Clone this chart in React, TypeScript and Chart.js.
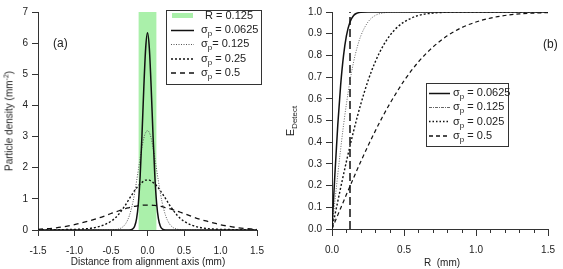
import React, { useEffect, useRef } from "react";
import { Chart, registerables } from "chart.js";

Chart.register(...registerables);

const FONT = "'Liberation Sans', Arial, sans-serif";
const INK = "#222";

// ---------- Panel (a): particle density vs distance ----------
const distX = [
  -1.5, -1.25, -1.0, -0.9, -0.8, -0.7, -0.6, -0.5, -0.45, -0.4, -0.35, -0.3, -0.25, -0.2, -0.175, -0.15, -0.125, -0.1, -0.075, -0.05, -0.025,
  0,
  0.025, 0.05, 0.075, 0.1, 0.125, 0.15, 0.175, 0.2, 0.25, 0.3, 0.35, 0.4, 0.45, 0.5, 0.6, 0.7, 0.8, 0.9, 1.0, 1.25, 1.5,
];
const densSigma00625 = [
  0, 0, 0, 0, 0, 0, 0, 0, 0, 0, 0, 0, 0, 0.04, 0.13, 0.36, 0.86, 1.76, 3.08, 4.6, 5.84,
  6.33,
  5.84, 4.6, 3.08, 1.76, 0.86, 0.36, 0.13, 0.04, 0, 0, 0, 0, 0, 0, 0, 0, 0, 0, 0, 0, 0,
];
const densSigma0125 = [
  0, 0, 0, 0, 0, 0, 0, 0, 0.01, 0.03, 0.08, 0.2, 0.45, 0.89, 1.2, 1.56, 1.94, 2.32, 2.66, 2.95, 3.13,
  3.19,
  3.13, 2.95, 2.66, 2.32, 1.94, 1.56, 1.2, 0.89, 0.45, 0.2, 0.08, 0.03, 0.01, 0, 0, 0, 0, 0, 0, 0, 0,
];
const densSigma025 = [
  0, 0.01, 0.02, 0.03, 0.05, 0.09, 0.16, 0.28, 0.37, 0.49, 0.64, 0.81, 1.0, 1.18, 1.27, 1.35, 1.42, 1.48, 1.53, 1.57, 1.6,
  1.6,
  1.6, 1.57, 1.53, 1.48, 1.42, 1.35, 1.27, 1.18, 1.0, 0.81, 0.64, 0.49, 0.37, 0.28, 0.16, 0.09, 0.05, 0.03, 0.02, 0.01, 0,
];
const densSigma05 = [
  0.02, 0.07, 0.17, 0.23, 0.29, 0.36, 0.44, 0.53, 0.57, 0.61, 0.65, 0.69, 0.72, 0.75, 0.76, 0.77, 0.78, 0.79, 0.79, 0.8, 0.8,
  0.8,
  0.8, 0.8, 0.79, 0.79, 0.78, 0.77, 0.76, 0.75, 0.72, 0.69, 0.65, 0.61, 0.57, 0.53, 0.44, 0.36, 0.29, 0.23, 0.17, 0.07, 0.02,
];
const bandX = [-0.125, 0.125];
const bandY = [7, 7];
const densityTicksY = [0, 1, 2, 3, 4, 5, 6, 7];

// ---------- Panel (b): E_Detect vs R ----------
const radiusX = [
  0, 0.02, 0.04, 0.06, 0.08, 0.1, 0.125, 0.15, 0.175, 0.2, 0.25, 0.3, 0.35, 0.4, 0.45, 0.5, 0.6, 0.7, 0.8, 0.9, 1.0, 1.1, 1.2, 1.3, 1.4, 1.5,
];
const detSigma00625 = [
  0, 0.251, 0.478, 0.663, 0.799, 0.89, 0.954, 0.984, 0.995, 0.999, 1, 1, 1, 1, 1, 1, 1, 1, 1, 1, 1, 1, 1, 1, 1, 1,
];
const detSigma0125 = [
  0, 0.127, 0.251, 0.368, 0.478, 0.576, 0.683, 0.77, 0.838, 0.89, 0.954, 0.984, 0.995, 0.999, 1, 1, 1, 1, 1, 1, 1, 1, 1, 1, 1, 1,
];
const detSigma025 = [
  0, 0.064, 0.127, 0.19, 0.251, 0.311, 0.383, 0.451, 0.516, 0.576, 0.683, 0.77, 0.838, 0.89, 0.928, 0.954, 0.984, 0.995, 0.999, 1, 1, 1, 1, 1, 1, 1,
];
const detSigma05 = [
  0, 0.032, 0.064, 0.096, 0.127, 0.159, 0.197, 0.236, 0.274, 0.311, 0.383, 0.451, 0.516, 0.576, 0.631, 0.683, 0.77, 0.838, 0.89, 0.928, 0.954, 0.972, 0.984, 0.991, 0.995, 0.997,
];
const cutoffX = [0.125, 0.125];
const cutoffY = [0, 1];
const radiusMinorTicks = [0.1, 0.2, 0.3, 0.4, 0.6, 0.7, 0.8, 0.9, 1.1, 1.2, 1.3, 1.4];

const pts = (xs: number[], ys: number[]) => xs.map((x, i) => ({ x, y: ys[i] }));

const tickFont = { family: FONT, size: 10 };

function axisBase(extra: any) {
  return {
    type: "linear",
    grid: { drawOnChartArea: false, drawTicks: true, tickLength: 6, color: "#333", lineWidth: 1 },
    border: { display: true, color: "#333", width: 1 },
    ...extra,
  };
}

function DensityChart() {
  const ref = useRef<HTMLCanvasElement>(null);
  useEffect(() => {
    const curve = (data: number[], color: string, width: number, dash: number[]) => ({
      data: pts(distX, data),
      borderColor: color,
      borderWidth: width,
      borderDash: dash,
      pointRadius: 0,
      fill: false,
      cubicInterpolationMode: "monotone",
    });
    const chart = new Chart(ref.current!, {
      type: "line",
      data: {
        datasets: [
          curve(densSigma00625, "#111", 1.5, []),
          curve(densSigma0125, "#555", 1, [1, 1.5]),
          curve(densSigma025, "#111", 1.4, [2, 2]),
          curve(densSigma05, "#111", 1.3, [5, 4]),
          {
            data: pts(bandX, bandY),
            borderWidth: 0,
            borderColor: "rgba(0,0,0,0)",
            backgroundColor: "#aaf0aa",
            pointRadius: 0,
            fill: "origin",
            tension: 0,
          },
        ],
      } as any,
      options: {
        animation: false,
        responsive: false,
        maintainAspectRatio: false,
        events: [],
        layout: { padding: { top: 12, right: 23, bottom: 0, left: 0 } },
        plugins: { legend: { display: false }, tooltip: { enabled: false } },
        scales: {
          x: axisBase({
            min: -1.5,
            max: 1.5,
            ticks: {
              stepSize: 0.5,
              autoSkip: false,
              maxRotation: 0,
              padding: 9,
              color: INK,
              font: tickFont,
              callback: (v: any) => Number(v).toFixed(1),
            },
            afterFit: (s: any) => {
              s.height = 39;
            },
          }),
          y: axisBase({
            min: 0,
            max: 7,
            afterBuildTicks: (s: any) => {
              s.ticks = densityTicksY.map((v) => ({ value: v }));
            },
            ticks: {
              autoSkip: false,
              padding: 4,
              color: INK,
              font: tickFont,
              callback: (v: any) => String(v),
            },
            afterFit: (s: any) => {
              s.width = 38;
            },
          }),
        },
      } as any,
    });
    return () => chart.destroy();
  }, []);
  return (
    <canvas
      ref={ref}
      width={280}
      height={269}
      style={{ position: "absolute", left: 0, top: 0, width: 280, height: 269 }}
    />
  );
}

const minorTickPlugin = {
  id: "minorTicks",
  afterDraw(chart: any) {
    const xs = chart.scales.x;
    const ctx = chart.ctx;
    const bottom = chart.chartArea.bottom;
    ctx.save();
    ctx.strokeStyle = "#333";
    ctx.lineWidth = 1;
    ctx.beginPath();
    radiusMinorTicks.forEach((v) => {
      const px = Math.round(xs.getPixelForValue(v)) + 0.5;
      ctx.moveTo(px, bottom);
      ctx.lineTo(px, bottom + 4);
    });
    ctx.stroke();
    ctx.restore();
  },
};

function DetectChart() {
  const ref = useRef<HTMLCanvasElement>(null);
  useEffect(() => {
    const curve = (data: number[], color: string, width: number, dash: number[]) => ({
      data: pts(radiusX, data),
      borderColor: color,
      borderWidth: width,
      borderDash: dash,
      pointRadius: 0,
      fill: false,
      cubicInterpolationMode: "monotone",
    });
    const chart = new Chart(ref.current!, {
      type: "line",
      data: {
        datasets: [
          curve(detSigma00625, "#111", 1.5, []),
          curve(detSigma0125, "#666", 1, [1, 1.5]),
          curve(detSigma025, "#111", 1.4, [2, 2]),
          curve(detSigma05, "#111", 1.2, [4, 3]),
          {
            data: pts(cutoffX, cutoffY),
            borderColor: "#111",
            borderWidth: 1.5,
            borderDash: [8, 4],
            pointRadius: 0,
            fill: false,
            tension: 0,
          },
        ],
      } as any,
      options: {
        animation: false,
        responsive: false,
        maintainAspectRatio: false,
        events: [],
        layout: { padding: { top: 12, right: 11, bottom: 0, left: 0 } },
        plugins: { legend: { display: false }, tooltip: { enabled: false } },
        scales: {
          x: axisBase({
            min: 0,
            max: 1.5,
            grid: { drawOnChartArea: false, drawTicks: true, tickLength: 7, color: "#333", lineWidth: 1 },
            ticks: {
              stepSize: 0.5,
              autoSkip: false,
              maxRotation: 0,
              padding: 8,
              color: INK,
              font: tickFont,
              callback: (v: any) => Number(v).toFixed(1),
            },
            afterFit: (s: any) => {
              s.height = 40;
            },
          }),
          y: axisBase({
            min: 0,
            max: 1,
            grid: { drawOnChartArea: false, drawTicks: true, tickLength: 6, color: "#333", lineWidth: 1 },
            ticks: {
              stepSize: 0.1,
              autoSkip: false,
              padding: 4,
              color: INK,
              font: tickFont,
              callback: (v: any) => Number(v).toFixed(1),
            },
            afterFit: (s: any) => {
              s.width = 52;
            },
          }),
        },
      } as any,
      plugins: [minorTickPlugin],
    });
    return () => chart.destroy();
  }, []);
  return (
    <canvas
      ref={ref}
      width={283}
      height={269}
      style={{ position: "absolute", left: 280, top: 0, width: 283, height: 269 }}
    />
  );
}

const textStyle: React.CSSProperties = {
  position: "absolute",
  fontFamily: FONT,
  color: INK,
  whiteSpace: "pre",
  lineHeight: "13px",
  height: 13,
};

const Sub = ({ children, size = 8 }: { children: React.ReactNode; size?: number }) => (
  <span style={{ fontSize: size, position: "relative", top: 3 }}>{children}</span>
);

function LegendText({ x, y, children, size = 11 }: { x: number; y: number; children: React.ReactNode; size?: number }) {
  return <div style={{ ...textStyle, left: x, top: y - 7, fontSize: size }}>{children}</div>;
}

export default function App() {
  return (
    <div
      style={{
        position: "absolute",
        left: 0,
        top: 0,
        width: 563,
        height: 269,
        overflow: "hidden",
        background: "#fff",
      }}
    >
      <DensityChart />
      <DetectChart />

      {/* panel labels */}
      <div style={{ ...textStyle, left: 53, top: 37, fontSize: 12 }}>(a)</div>
      <div style={{ ...textStyle, left: 543, top: 38, fontSize: 12 }}>(b)</div>

      {/* axis titles */}
      <div
        style={{
          ...textStyle,
          left: 148,
          top: 261,
          fontSize: 10,
          transform: "translate(-50%, -50%)",
        }}
      >
        Distance from alignment axis (mm)
      </div>
      <div
        style={{
          ...textStyle,
          left: 442,
          top: 262,
          fontSize: 10,
          transform: "translate(-50%, -50%)",
        }}
      >
        {"R  (mm)"}
      </div>
      <div
        style={{
          ...textStyle,
          left: 9,
          top: 121,
          fontSize: 10,
          transform: "translate(-50%, -50%) rotate(-90deg)",
        }}
      >
        Particle density (mm
        <span style={{ fontSize: 7, position: "relative", top: -4 }}>-2</span>)
      </div>
      <div
        style={{
          ...textStyle,
          left: 290,
          top: 121,
          fontSize: 11,
          transform: "translate(-50%, -50%) rotate(-90deg)",
        }}
      >
        E<Sub>Detect</Sub>
      </div>

      {/* legend (a) */}
      <div
        style={{
          position: "absolute",
          left: 166,
          top: 10,
          width: 94,
          height: 73,
          border: "1px solid #333",
          background: "#fff",
        }}
      />
      <svg style={{ position: "absolute", left: 0, top: 0 }} width={563} height={269}>
        <rect x={172} y={13} width={21} height={5} fill="#aaf0aa" />
        <line x1={171} y1={30.5} x2={194} y2={30.5} stroke="#111" strokeWidth={1.5} />
        <line x1={171} y1={44.5} x2={194} y2={44.5} stroke="#555" strokeWidth={1} strokeDasharray="1 1.5" />
        <line x1={171} y1={59} x2={194} y2={59} stroke="#111" strokeWidth={1.4} strokeDasharray="2 2" />
        <line x1={171} y1={73} x2={194} y2={73} stroke="#111" strokeWidth={1.3} strokeDasharray="5 4" />
      </svg>
      <LegendText x={205} y={16}>R = 0.125</LegendText>
      <LegendText x={201} y={30}>
        σ<Sub>p</Sub> = 0.0625
      </LegendText>
      <LegendText x={201} y={44}>
        σ<Sub>p</Sub>= 0.125
      </LegendText>
      <LegendText x={201} y={59}>
        σ<Sub>p</Sub> = 0.25
      </LegendText>
      <LegendText x={201} y={73}>
        σ<Sub>p</Sub> = 0.5
      </LegendText>

      {/* legend (b) */}
      <div
        style={{
          position: "absolute",
          left: 426,
          top: 83,
          width: 81,
          height: 62,
          border: "1px solid #333",
          background: "#fff",
        }}
      />
      <svg style={{ position: "absolute", left: 0, top: 0 }} width={563} height={269}>
        <line x1={429} y1={93.5} x2={450} y2={93.5} stroke="#111" strokeWidth={1.5} />
        <line x1={429} y1={107.5} x2={450} y2={107.5} stroke="#666" strokeWidth={1} strokeDasharray="3 1 1 1" />
        <line x1={429} y1={121.5} x2={450} y2={121.5} stroke="#111" strokeWidth={1.4} strokeDasharray="1.5 2" />
        <line x1={429} y1={136} x2={450} y2={136} stroke="#111" strokeWidth={1.3} strokeDasharray="4 3" />
      </svg>
      <LegendText x={453} y={93}>
        σ<Sub>p</Sub> = 0.0625
      </LegendText>
      <LegendText x={453} y={107}>
        σ<Sub>p</Sub> = 0.125
      </LegendText>
      <LegendText x={453} y={121.5}>
        σ<Sub>p</Sub> = 0.025
      </LegendText>
      <LegendText x={453} y={136}>
        σ<Sub>p</Sub> = 0.5
      </LegendText>
    </div>
  );
}
